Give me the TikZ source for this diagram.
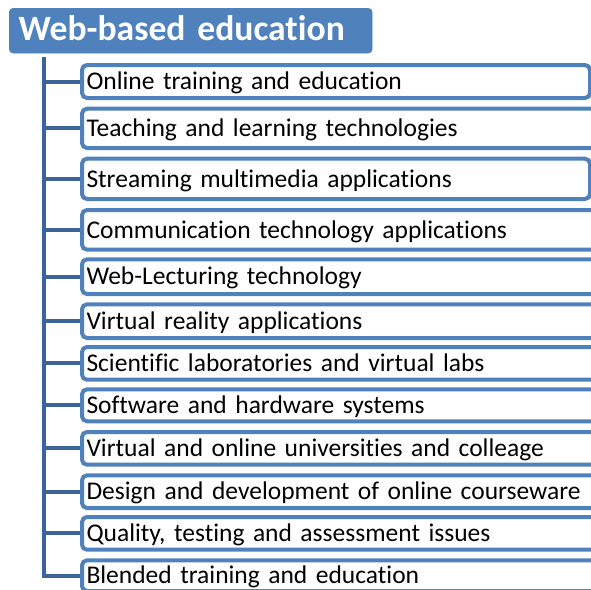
\documentclass[tikz,border=0pt]{standalone}
\usepackage{fontspec}
\setmainfont{Carlito}[Ligatures={NoCommon}]
\definecolor{accent}{RGB}{79,129,189}
\definecolor{connc}{RGB}{60,100,152}
\tikzset{
  itembox/.style={draw=accent, line width=4pt, rounded corners=5pt, fill=white,
    anchor=west, inner xsep=4.5pt, inner ysep=0pt, align=left,
    text height=16.4pt, text depth=0pt,
    font=\fontsize{25.5}{30}\selectfont, text=black},
  titlebox/.style={fill=accent, draw=accent, rounded corners=4pt, anchor=north west,
    minimum width=363pt, minimum height=45pt, inner xsep=9.5pt, inner ysep=0pt,
    text width=344pt, align=left, text height=22.9pt, text depth=4pt,
    font=\fontsize{35.6}{40}\bfseries\selectfont, text=white},
  conn/.style={draw=connc, line width=4pt, line join=miter}
}
\begin{document}
\begin{tikzpicture}[x=1pt,y=-1pt]
\useasboundingbox (0,0) rectangle (591,589);
\clip (0,0) rectangle (591,589);
\node[titlebox] (title) at (9,8) {Web-based education};
\coordinate (top) at (44,57);
\newcommand{\itemnode}[5]{%
  \pgfmathsetmacro{\cy}{(#2+#3)/2}%
  \pgfmathsetmacro{\hh}{#3-#2-4}%
  \pgfmathsetmacro{\ww}{#4-78-4-9}%
  \node[itembox, minimum height=\hh pt, text width=\ww pt] (#1) at (80,\cy) {#5};}
\itemnode{b1}{63}{100}{590}{Online training and education}
\itemnode{b2}{106.7}{150}{600}{Teaching and learning technologies}
\itemnode{b3}{156.7}{201}{590}{Streaming multimedia applications}
\itemnode{b4}{208}{251.7}{600}{Communication technology applications}
\itemnode{b5}{257.3}{296}{600}{Web-Lecturing technology}
\itemnode{b6}{302.3}{340}{600}{Virtual reality applications}
\itemnode{b7}{345}{381.7}{600}{Scientific laboratories and virtual labs}
\itemnode{b8}{387.3}{423.3}{600}{Software and hardware systems}
\itemnode{b9}{430}{466.7}{600}{Virtual and online universities and colleage}
\itemnode{b10}{473.3}{510}{600}{Design and development of online courseware}
\itemnode{b11}{515}{551.7}{600}{Quality, testing and assessment issues}
\itemnode{b12}{558.3}{593}{600}{Blended training and education}
\draw[conn] (top) |- (b12.west);
\foreach \b in {b1,b2,b3,b4,b5,b6,b7,b8,b9,b10,b11}
  \draw[conn] (top |- \b.west) -- (\b.west);
\end{tikzpicture}
\end{document}
